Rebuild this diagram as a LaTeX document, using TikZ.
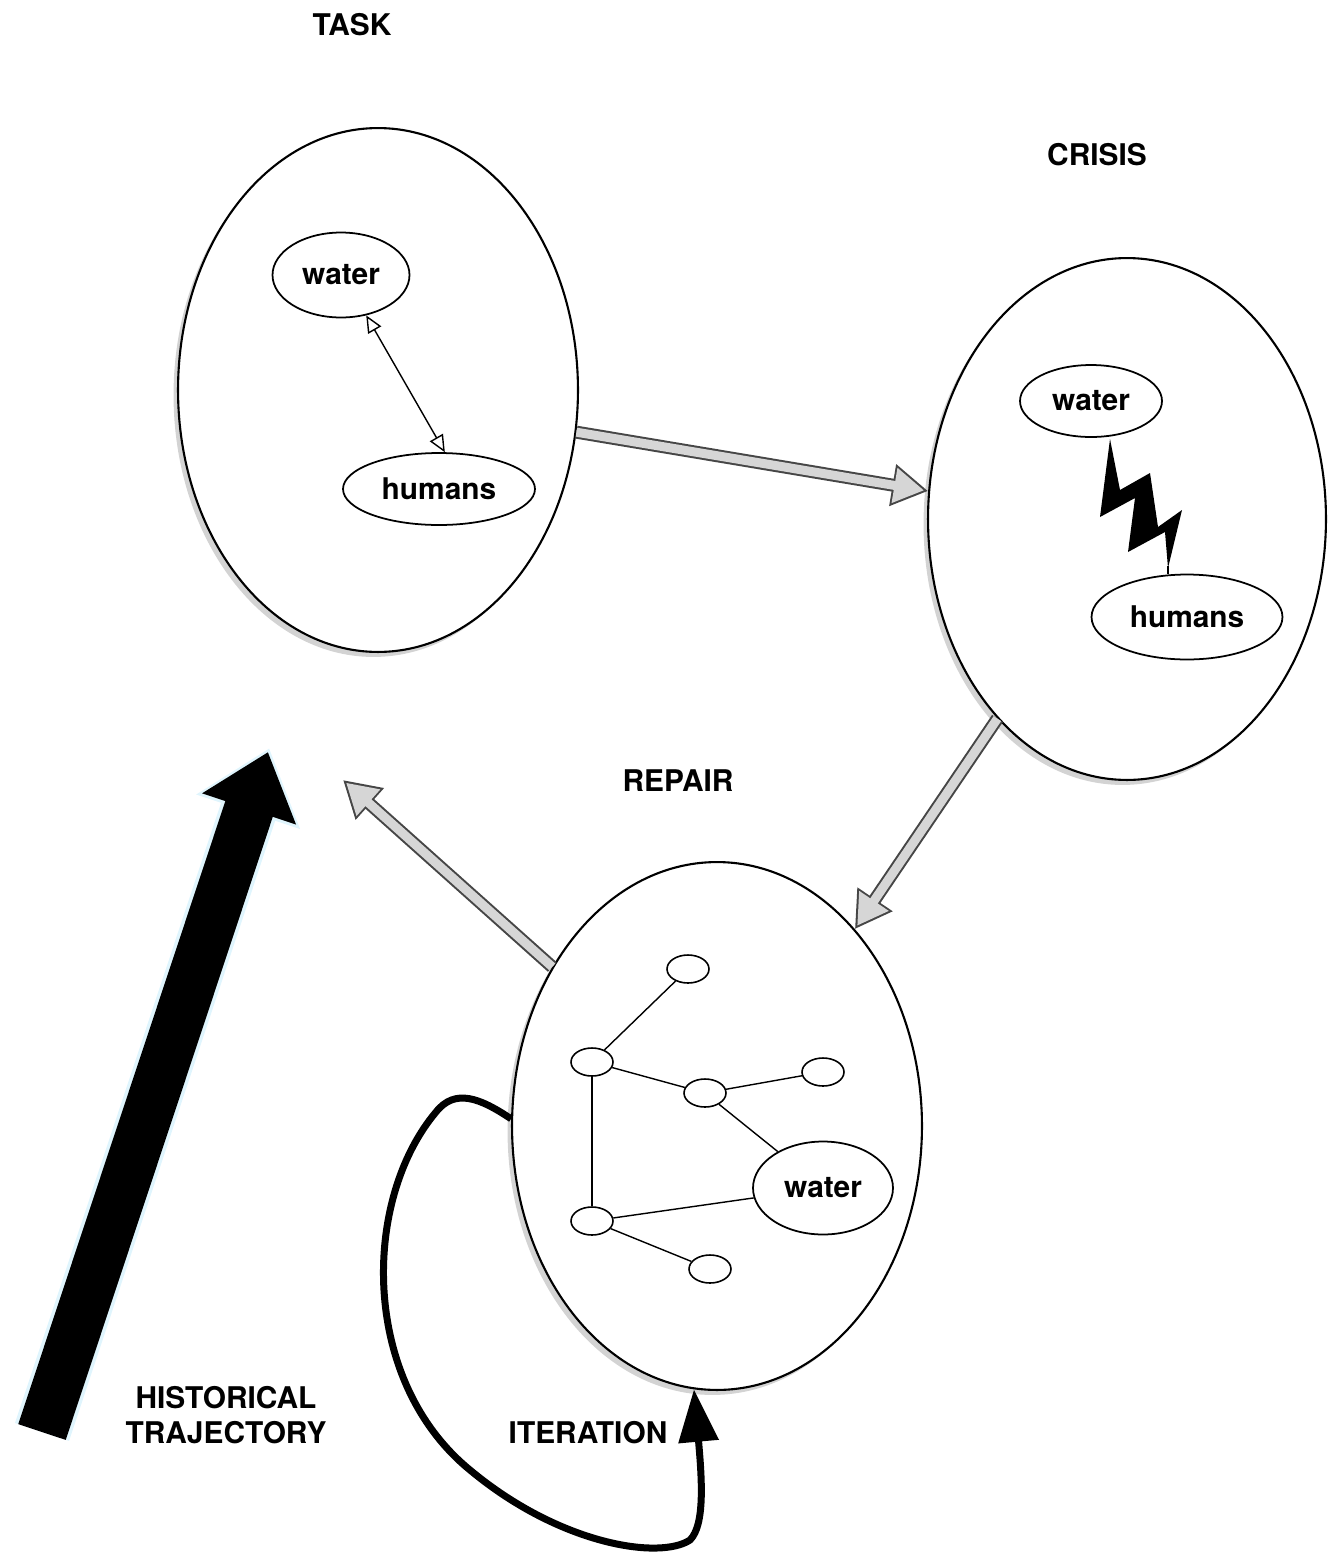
\documentclass[tikz,border=0pt]{standalone}
\usepackage{fontspec}
\setmainfont{TeX Gyre Heros}
\usetikzlibrary{shapes.geometric, arrows.meta, shadows}
\newcommand{\headfont}{\fontsize{17}{20}\selectfont\bfseries}
\tikzstyle{phase}=[ellipse, draw, line width=1.2pt, fill=white, inner sep=0, drop shadow={shadow xshift=-0.09cm, shadow yshift=-0.1cm, opacity=0.35}]
\tikzstyle{thing}=[ellipse, draw, line width=1pt, fill=white, inner sep=0, font=\headfont]
\tikzstyle{knot}=[ellipse, draw, line width=0.9pt, fill=white, minimum width=0.84cm, minimum height=0.56cm, inner sep=0]
\tikzstyle{heading}=[font=\headfont, align=center]
\tikzstyle{passage}=[line width=0.26cm, draw=gray!55!black, -{Triangle[width=0.8cm,length=0.72cm]}, postaction={draw=gray!32, line width=0.18cm, shorten >=0.082cm, -{Triangle[width=0.67cm,length=0.6cm]}}]

\begin{document}
\begin{tikzpicture}[x=0.02cm, y=-0.02cm]
\useasboundingbox (0,0) rectangle (1339,1552);

% the three phases
\node[phase, minimum width=8cm, minimum height=10.48cm] (task) at (378,390) {};
\node[phase, minimum width=7.96cm, minimum height=10.44cm] (crisis) at (1127,519) {};
\node[phase, minimum width=8.2cm, minimum height=10.56cm] (repair) at (717,1126) {};
\node[heading] (tasktitle) at (352,25) {TASK};
\node[heading] (crisistitle) at (1097,155) {CRISIS};
\node[heading] (repairtitle) at (678,781) {REPAIR};

% task
\node[thing, minimum width=2.74cm, minimum height=1.7cm] (twater) at (341,275) {water};
\node[thing, minimum width=3.84cm, minimum height=1.44cm] (thumans) at (439,489) {humans};
\draw[line width=0.8pt, {Triangle[open,width=0.3cm,length=0.34cm]}-{Triangle[open,width=0.3cm,length=0.34cm]}] (twater.-58) -- (thumans.81);

% crisis
\node[thing, minimum width=2.84cm, minimum height=1.44cm] (cwater) at (1091,401) {water};
\node[thing, minimum width=3.82cm, minimum height=1.7cm] (chumans) at (1187,617) {humans};
\fill (1110,439) -- (1100,517) -- (1135,498) -- (1128,552) -- (1165,532) -- (1168,568) -- (1182,510) -- (1158,527) -- (1150,473) -- (1120,490) -- cycle;
\coordinate (bolttip) at (1168,566);
\draw[line width=0.8pt] (bolttip) -- (bolttip |- chumans.north);

% repair
\node[thing, minimum width=2.8cm, minimum height=1.86cm] (rwater) at (823,1188) {water};
\foreach \n/\x/\y in {n1/688/969, n2/592/1062, n3/705/1093, n4/823/1072, n5/592/1221, n6/710/1269}
	\node[knot] (\n) at (\x,\y) {};
\foreach \a/\b in {n2/n1, n2/n3, n3/n4, n3/rwater, n2/n5, n5/rwater, n5/n6}
	\draw[line width=0.8pt] (\a) -- (\b);

% moves between phases
\coordinate (back) at (343,780);
\draw[passage] (task.-12) -- (crisis.172);
\draw[passage] (crisis.237) -- (repair.55);
\draw[passage] (repair.136) -- (back);

% iteration
\draw[line width=0.14cm, -{Triangle[width=0.78cm,length=1.05cm]}] (repair.178) .. controls (480,1098) and (455,1088) .. (436,1112)
	.. controls (362,1200) and (360,1380) .. (470,1470)
	.. controls (560,1545) and (660,1560) .. (690,1540)
	.. controls (705,1525) and (702,1480) .. (repair.265);
\node[heading] (itertitle) at (588,1433) {ITERATION};

% history
\coordinate (histtail) at (42,1432);
\coordinate (histtip) at (268,752);
\draw[line width=1cm, -{Triangle[width=1.9cm,length=1.2cm]}, preaction={draw=cyan!12, line width=1.14cm, shorten >=-0.08cm, -{Triangle[width=2.1cm,length=1.34cm]}}] (histtail) -- (histtip);
\node[heading] (histtitle) at (226,1415) {HISTORICAL\\TRAJECTORY};
\end{tikzpicture}
\end{document}
